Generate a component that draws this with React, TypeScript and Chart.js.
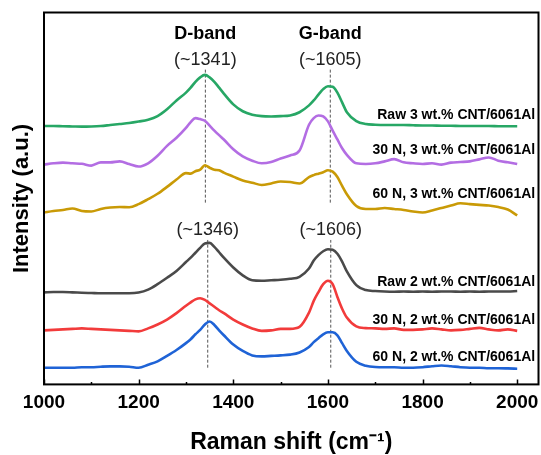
import React, { useEffect, useRef } from "react";
import { Chart, registerables } from "chart.js";

Chart.register(...registerables);

const FONT = "'Liberation Sans', Arial, Helvetica, sans-serif";

// Raman shift grid (cm-1)
const wavenumbers = [
  1000, 1020, 1040, 1060, 1080, 1100, 1120, 1140, 1160, 1180, 1200, 1220, 1240, 1260, 1280, 1300,
  1310, 1320, 1330, 1340, 1350, 1360, 1370, 1380,
  1400, 1420, 1440, 1460, 1480, 1500, 1520, 1540, 1560,
  1570, 1580, 1590, 1600, 1610, 1620, 1630, 1640,
  1660, 1680, 1700, 1720, 1740, 1760, 1780, 1800, 1820, 1840, 1860, 1880, 1900, 1920, 1940, 1960, 1980, 2000,
];

// Offset intensities (a.u.)
const raw3 = [
  263, 263, 262.7, 262.5, 262.3, 262.5, 263, 264, 265, 266, 267.5, 269.3, 273, 280, 289, 297,
  302, 308, 312.5, 315, 312.5, 308, 302, 296,
  285, 278, 274.5, 273, 272.7, 273, 273.7, 277, 284,
  289, 295, 300.5, 303.5, 303, 297, 287, 277,
  268, 265, 264.3, 264, 264, 264, 263.7, 263.5, 263.5, 263.3, 263.3, 263, 263, 263, 263, 262.8, 262.7, 262.7,
];
const n30w3 = [
  223.7, 225, 225.7, 225, 224.5, 222.7, 226, 226, 227, 224.3, 221.7, 225, 232.7, 242.7, 251, 261,
  267, 271, 270, 268.3, 263.3, 258.3, 253.7, 249.3,
  239.3, 232, 227.7, 225, 226.3, 230, 233, 238, 264.3,
  271, 273.7, 272.7, 267.7, 258.3, 249.3, 240.3, 233.7,
  225, 224.3, 225, 227, 229.3, 226, 225, 224.3, 225, 223.7, 225.7, 226.3, 227, 229, 231, 227.7, 226, 224.3,
];
const n60w3 = [
  175, 176.5, 177.5, 179, 176.5, 176, 178.5, 180, 180.5, 180.3, 183.5, 188.5, 194, 201, 208.5, 215,
  214.5, 217, 218.5, 223, 220.5, 218.5, 218, 215.5,
  211.5, 207.5, 205.3, 203, 204.5, 206.5, 206, 204.5, 211,
  213, 214.5, 216, 218, 216.5, 211, 202, 193.5,
  181.5, 178.5, 178.5, 179.5, 178.5, 177.5, 176, 175, 177, 179.5, 182, 184.3, 183.5, 182.7, 182, 180.5, 178, 172,
];
const raw2 = [
  93.7, 94, 94, 93.7, 93.3, 93, 92.7, 92.7, 92.7, 92.7, 93.5, 96.5, 102, 108.5, 115.5, 124.5,
  129, 134, 139, 143.5, 144, 140, 134.5, 129,
  119, 111, 106, 105.5, 106, 106.5, 107.5, 109.5, 118,
  126, 131.5, 135.5, 137.5, 137, 133, 125, 115,
  101, 96, 95, 94.5, 94.3, 94.5, 94.3, 94.5, 94.3, 94.5, 94.5, 94.3, 94.5, 94.3, 94.5, 94.5, 94.5, 95,
];
const n30w2 = [
  55, 55.5, 56, 56.5, 57, 56.5, 56, 55.5, 55, 54.5, 54, 57, 61, 66, 72.5, 80,
  83.5, 86.5, 87.7, 86, 82.5, 79, 75.5, 72.5,
  66, 61, 57, 54.5, 55, 56.5, 56.5, 58.5, 73,
  85, 94, 102, 105.5, 102, 89, 77, 68,
  59, 57.3, 57, 56.5, 57, 55.5, 55.5, 56, 57, 56, 55, 55.5, 56.5, 57.5, 56, 55, 56, 54.5,
];
const n60w2 = [
  17, 17, 17, 17, 17.5, 17.5, 18, 18.3, 18.3, 18, 17, 20, 23.5, 29, 35, 42,
  46, 51, 55.5, 61, 64, 60.5, 55, 50,
  40.5, 34, 29.5, 28.5, 29, 29.5, 30.3, 32.5, 38,
  43, 47, 51, 53, 53, 50, 42, 34,
  23, 19, 17.7, 17.5, 17.5, 17, 17, 17.5, 18.5, 19.3, 18.5, 17.5, 17, 17, 16.5, 16.5, 16.3, 16,
];

const seriesNames = [
  "Raw 3 wt.% CNT/6061Al",
  "30 N, 3 wt.% CNT/6061Al",
  "60 N, 3 wt.% CNT/6061Al",
  "Raw 2 wt.% CNT/6061Al",
  "30 N, 2 wt.% CNT/6061Al",
  "60 N, 2 wt.% CNT/6061Al",
];
const seriesValues = [raw3, n30w3, n60w3, raw2, n30w2, n60w2];
const seriesColors = ["#27a765", "#b36de3", "#c99a06", "#4a4a4a", "#f23b3b", "#1f63d6"];
const seriesLabelY = [274, 238, 194, 104, 65, 28];
const seriesLabelX = 2038;

// Peak markers
const topPeaks = [1341, 1605];
const topPeakLabels = ["(~1341)", "(~1605)"];
const bandNames = ["D-band", "G-band"];
const bottomPeaks = [1346, 1606];
const bottomPeakLabels = ["(~1346)", "(~1606)"];
const topMarkerRange = [185, 321];
const bottomMarkerRange = [17, 147];

const xTicks = [1000, 1200, 1400, 1600, 1800, 2000];
const xMinorTicks = [1100, 1300, 1500, 1700, 1900];

const overlay = {
  id: "overlay",
  afterDatasetsDraw(chart: any) {
    const { ctx, chartArea: a, scales } = chart;
    const x = scales.x;
    const y = scales.y;
    ctx.save();
    ctx.strokeStyle = "#000";
    ctx.lineWidth = 1.5;
    ctx.beginPath();
    for (const v of xTicks) {
      const px = Math.round(x.getPixelForValue(v)) + 0.5;
      ctx.moveTo(px, a.bottom);
      ctx.lineTo(px, a.bottom - 5);
    }
    for (const v of xMinorTicks) {
      const px = Math.round(x.getPixelForValue(v)) + 0.5;
      ctx.moveTo(px, a.bottom);
      ctx.lineTo(px, a.bottom - 2.5);
    }
    ctx.stroke();
    ctx.lineWidth = 2;
    ctx.strokeRect(a.left, a.top, a.right - a.left, a.bottom - a.top);

    ctx.fillStyle = "#000";
    ctx.textAlign = "center";
    ctx.textBaseline = "middle";
    ctx.font = `bold 18px ${FONT}`;
    bandNames.forEach((t, i) => ctx.fillText(t, x.getPixelForValue(topPeaks[i]), y.getPixelForValue(357)));
    ctx.font = `18px ${FONT}`;
    ctx.fillStyle = "#222";
    topPeakLabels.forEach((t, i) => ctx.fillText(t, x.getPixelForValue(topPeaks[i]), y.getPixelForValue(330)));
    bottomPeakLabels.forEach((t, i) => ctx.fillText(t, x.getPixelForValue(bottomPeaks[i]), y.getPixelForValue(157)));

    ctx.fillStyle = "#000";
    ctx.textAlign = "right";
    ctx.font = `bold 14px ${FONT}`;
    seriesNames.forEach((t, i) => ctx.fillText(t, x.getPixelForValue(seriesLabelX), y.getPixelForValue(seriesLabelY[i])));
    ctx.restore();
  },
};

export default function App() {
  const ref = useRef<HTMLCanvasElement | null>(null);
  useEffect(() => {
    if (!ref.current) return;
    Chart.defaults.font.family = FONT;
    const markerSets: any[] = [];
    const addMarkers = (peaks: number[], range: number[]) =>
      peaks.forEach((p) =>
        markerSets.push({
          data: [{ x: p, y: range[0] }, { x: p, y: range[1] }],
          borderColor: "#555",
          borderWidth: 1,
          borderDash: [3, 2],
          pointRadius: 0,
          order: 10,
        })
      );
    addMarkers(topPeaks, topMarkerRange);
    addMarkers(bottomPeaks, bottomMarkerRange);
    const chart = new Chart(ref.current, {
      type: "line",
      data: {
        datasets: [
          ...seriesValues.map((vals, i) => ({
            label: seriesNames[i],
            data: wavenumbers.map((w, j) => ({ x: w, y: vals[j] })),
            borderColor: seriesColors[i],
            borderWidth: 2.6,
            pointRadius: 0,
            cubicInterpolationMode: "monotone" as const,
            order: 1,
          })),
          ...markerSets,
        ],
      },
      options: {
        responsive: false,
        animation: false,
        layout: { padding: { top: 12.5, right: 2.5, left: 0, bottom: 0 } },
        plugins: { legend: { display: false }, tooltip: { enabled: false } },
        scales: {
          x: {
            type: "linear",
            min: 1000,
            max: 2045,
            afterBuildTicks: (s: any) => {
              s.ticks = xTicks.map((v) => ({ value: v }));
            },
            afterFit: (s: any) => {
              s.paddingRight = 0;
            },
            grid: { display: false, drawTicks: false },
            border: { display: false },
            ticks: {
              padding: 6.6,
              color: "#000",
              font: { size: 19, weight: "bold", family: FONT },
              maxRotation: 0,
              autoSkip: false,
              callback: (v: any) => String(v),
            },
            title: {
              display: true,
              text: "Raman shift (cm\u207B\u00B9)",
              color: "#000",
              font: { size: 23, weight: "bold", family: FONT, lineHeight: 1 },
              padding: { top: 11.1, bottom: 0.5 },
            },
          },
          y: {
            type: "linear",
            min: 0,
            max: 378.5,
            grid: { display: false, drawTicks: false },
            border: { display: false },
            ticks: { display: false },
            title: {
              display: true,
              text: "Intensity (a.u.)",
              color: "#000",
              font: { size: 22, weight: "bold", family: FONT, lineHeight: 1.2 },
              padding: { top: 8.8, bottom: 8.8 },
            },
          },
        },
      },
      plugins: [overlay],
    });
    return () => chart.destroy();
  }, []);
  return (
    <div style={{ position: "absolute", left: 0, top: 0, width: 541, height: 455, background: "#fff" }}>
      <canvas ref={ref} width={541} height={455} style={{ display: "block" }} />
    </div>
  );
}
